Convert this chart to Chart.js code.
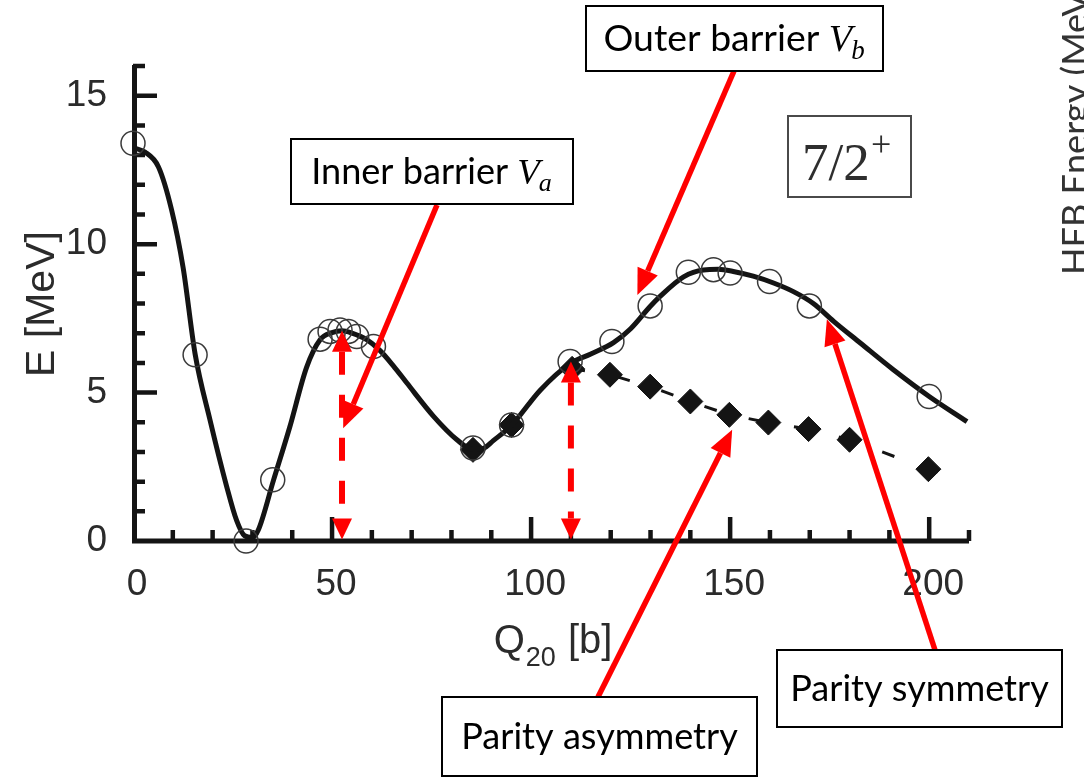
<!DOCTYPE html>
<html>
<head>
<meta charset="utf-8">
<script src="https://cdn.jsdelivr.net/npm/chart.js@4.4.1/dist/chart.umd.min.js"></script>
<style>
html,body{margin:0;padding:0;background:#fff;}
#wrap{width:1084px;height:777px;position:relative;overflow:hidden;background:#fff;}
canvas{display:block;}
</style>
</head>
<body>
<div id="wrap"><canvas id="c" width="1084" height="777"></canvas></div>
<script>
// ---------------- data ----------------
// smooth (parity-symmetric) energy curve
const curveQ = [0, 3, 6.4, 9.7, 12.6, 15.6, 19.3, 23.5, 26, 28, 30, 31.5, 35.3, 39.4, 43.6, 47, 50, 52.5, 55, 58.7, 62, 65.4, 68.8, 75.5, 81.3, 85.4, 88, 90.5, 95.1, 102.3, 109.8, 115, 120.7, 125, 129.9, 132.4, 138.3, 143.3, 147, 150.8, 155.8, 160.9, 165.9, 170.9, 176, 182.7, 191, 200, 209.5];
const curveE = [13.25, 13.1, 12.6, 11.15, 9.2, 6.3, 4.1, 1.85, 0.7, 0.18, 0.12, 0.38, 2.05, 3.85, 5.85, 6.78, 7.02, 7.08, 7.0, 6.78, 6.42, 5.9, 5.32, 4.2, 3.42, 3.08, 3.12, 3.38, 3.9, 5.08, 5.98, 6.3, 6.68, 7.15, 7.9, 8.24, 8.9, 9.13, 9.15, 9.08, 8.92, 8.69, 8.4, 8.0, 7.4, 6.67, 5.77, 4.87, 4.02];
// open circles (parity symmetry)
const circleQ = [0, 15.6, 28.4, 35.1, 47, 49.5, 52, 54.1, 56.2, 60.4, 85.4, 95.1, 109.8, 120.3, 129.9, 139.5, 145.8, 150, 159.9, 169.9, 200];
const circleE = [13.4, 6.27, 0, 2.06, 6.8, 7.06, 7.11, 7.06, 6.89, 6.55, 3.13, 3.91, 6.05, 6.72, 7.92, 9.05, 9.14, 9.03, 8.74, 7.92, 4.87];
// filled diamonds (parity asymmetry)
const diamondQ = [85.4, 95.1, 110.3, 119.8, 129.9, 140, 149.8, 159.6, 169.7, 180, 199.8];
const diamondE = [3.07, 3.91, 5.8, 5.6, 5.2, 4.7, 4.25, 3.99, 3.77, 3.41, 2.42];
// end of the dashed line
const dashEndQ = [210];
const dashEndE = [2.05];
// tick labels
const xTickLabels = [0, 50, 100, 150, 200];
const yTickLabels = [0, 5, 10, 15];
// annotation anchors in data space
const dimArrowQ = [52.5, 110];
const dimArrowTopE = [7.08, 6.05];
const calloutTipQ = [52.8, 126.7, 174.3, 150.5];
const calloutTipE = [3.8, 8.29, 7.47, 3.75];
// texts
const xTitleMain = 'Q', xTitleSub = '20', xTitleRest = ' [b]';
const yTitle = 'E [MeV]';
const calloutTexts = ['Inner barrier ', 'Outer barrier ', 'Parity symmetry', 'Parity asymmetry'];
const calloutVar = ['V', 'V'];
const calloutSub = ['a', 'b'];
const stateMain = '7/2', stateSup = '+';
const sideText = 'HFB Energy (MeV)';

// ---------------- drawing ----------------
const RED = '#ff0000';
const INK = '#141414';

function head(ctx, tx, ty, fx, fy, len, hw) {
  const a = Math.atan2(ty - fy, tx - fx);
  const bx = tx - len * Math.cos(a), by = ty - len * Math.sin(a);
  ctx.beginPath();
  ctx.moveTo(tx, ty);
  ctx.lineTo(bx + hw * Math.sin(a), by - hw * Math.cos(a));
  ctx.lineTo(bx - hw * Math.sin(a), by + hw * Math.cos(a));
  ctx.closePath();
  ctx.fill();
  return [bx, by];
}

function fitSize(ctx, text, family, target) {
  ctx.font = '40px ' + family;
  return 40 * target / ctx.measureText(text).width;
}

const deco = {
  id: 'deco',
  beforeDatasetsDraw(chart) {
    const ctx = chart.ctx, xs = chart.scales.x, ys = chart.scales.y;
    const L = xs.getPixelForValue(0), B = ys.getPixelForValue(0);
    const R = xs.getPixelForValue(210), T = ys.getPixelForValue(16);
    ctx.save();
    ctx.strokeStyle = INK;
    ctx.lineCap = 'butt';
    ctx.lineWidth = 5;
    ctx.beginPath();
    ctx.moveTo(L + 1.5, B + 2.5); ctx.lineTo(L + 1.5, T - 1);
    ctx.moveTo(L - 1, B); ctx.lineTo(R, B);
    ctx.stroke();
    ctx.lineWidth = 4.5;
    ctx.beginPath();
    xs.ticks.forEach(t => {
      if (t.value <= 0) return;
      const p = xs.getPixelForValue(t.value);
      const len = (t.value % 50 === 0) ? 24 : 11;
      ctx.moveTo(p, B); ctx.lineTo(p, B - len);
    });
    ys.ticks.forEach(t => {
      if (t.value <= 0) return;
      const p = ys.getPixelForValue(t.value);
      const len = (t.value % 5 === 0) ? 24 : 12;
      ctx.moveTo(L, p); ctx.lineTo(L + len, p);
    });
    ctx.stroke();
    ctx.restore();
  },
  afterDatasetsDraw(chart) {
    const ctx = chart.ctx, xs = chart.scales.x, ys = chart.scales.y;
    ctx.save();
    // axis titles
    ctx.fillStyle = '#2b2b2b';
    ctx.textBaseline = 'alphabetic';
    ctx.textAlign = 'left';
    ctx.save();
    ctx.translate(39, 304);
    ctx.rotate(-Math.PI / 2);
    ctx.font = '41px "Liberation Sans"';
    ctx.textAlign = 'center';
    ctx.fillText(yTitle, 0, 15);
    ctx.restore();

    ctx.font = '40px "Liberation Sans"';
    const wq = ctx.measureText(xTitleMain).width;
    const wr = ctx.measureText(xTitleRest).width;
    ctx.font = '27px "Liberation Sans"';
    const ws = ctx.measureText(xTitleSub).width;
    let x0 = 552 - (wq + ws + wr) / 2;
    ctx.font = '40px "Liberation Sans"';
    ctx.fillText(xTitleMain, x0, 653);
    ctx.font = '27px "Liberation Sans"';
    ctx.fillText(xTitleSub, x0 + wq + 1, 666);
    ctx.font = '40px "Liberation Sans"';
    ctx.fillText(xTitleRest, x0 + wq + ws + 2, 653);

    // red dashed double arrows
    ctx.fillStyle = RED; ctx.strokeStyle = RED;
    dimArrowQ.forEach((q, i) => {
      const x = xs.getPixelForValue(q);
      const yt = ys.getPixelForValue(dimArrowTopE[i]);
      const yb = ys.getPixelForValue(0) - 1.5;
      const b1 = head(ctx, x, yt, x, yb, 21, 10);
      const b2 = head(ctx, x, yb, x, yt, 21, 10);
      ctx.lineWidth = 6;
      ctx.setLineDash([23, 20]);
      ctx.beginPath();
      ctx.moveTo(x, b1[1]); ctx.lineTo(x, b2[1]);
      ctx.stroke();
      ctx.setLineDash([]);
    });

    // callout arrows
    const starts = [[437, 205], [734, 71], [935, 650], [598, 697]];
    calloutTipQ.forEach((q, i) => {
      const tx = xs.getPixelForValue(q), ty = ys.getPixelForValue(calloutTipE[i]);
      const [sx, sy] = starts[i];
      const b = head(ctx, tx, ty, sx, sy, 26, 11);
      ctx.lineWidth = 5.5;
      ctx.beginPath();
      ctx.moveTo(sx, sy); ctx.lineTo(b[0], b[1]);
      ctx.stroke();
    });

    // callout boxes
    const fam = 'Lato';
    const sInner = fitSize(ctx, 'Inner barrier', fam, 197);
    const sOuter = fitSize(ctx, 'Outer barrier', fam, 216);
    const boxes = [
      {x: 291, y: 139, w: 282, h: 65, s: sInner},
      {x: 586, y: 6, w: 297, h: 65, s: sOuter},
      {x: 777, y: 650, w: 285, h: 77, s: sInner},
      {x: 442, y: 697, w: 315, h: 79, s: sInner}
    ];
    boxes.forEach((bx, i) => {
      ctx.fillStyle = '#ffffff';
      ctx.fillRect(bx.x, bx.y, bx.w, bx.h);
      ctx.strokeStyle = '#000000';
      ctx.lineWidth = 2;
      ctx.strokeRect(bx.x, bx.y, bx.w, bx.h);
      ctx.fillStyle = '#000000';
      ctx.font = bx.s + 'px ' + fam;
      const wMain = ctx.measureText(calloutTexts[i]).width;
      let wV = 0, wS = 0;
      const vFont = 'italic ' + (bx.s * 1.02) + 'px "Liberation Serif"';
      const sFont = 'italic ' + (bx.s * 0.72) + 'px "Liberation Serif"';
      if (i < 2) {
        ctx.font = vFont; wV = ctx.measureText(calloutVar[i]).width;
        ctx.font = sFont; wS = ctx.measureText(calloutSub[i]).width;
      }
      const total = wMain + wV + wS;
      const tx = bx.x + (bx.w - total) / 2;
      const base = bx.y + bx.h / 2 + bx.s * 0.34;
      ctx.font = bx.s + 'px ' + fam;
      ctx.fillText(calloutTexts[i], tx, base);
      if (i < 2) {
        ctx.font = vFont;
        ctx.fillText(calloutVar[i], tx + wMain, base);
        ctx.font = sFont;
        ctx.fillText(calloutSub[i], tx + wMain + wV - 1, base + bx.s * 0.2);
      }
    });

    // 7/2+ label box
    ctx.strokeStyle = '#4a4a4a';
    ctx.lineWidth = 2;
    ctx.strokeRect(788, 116, 123, 81);
    ctx.fillStyle = '#2e2e2e';
    ctx.font = '53px "Liberation Serif"';
    ctx.fillText(stateMain, 802, 180);
    ctx.font = '36px "Liberation Serif"';
    ctx.fillText(stateSup, 871, 156);

    // cut-off text of neighbouring panel
    ctx.save();
    ctx.translate(1088, 275);
    ctx.rotate(-Math.PI / 2);
    ctx.fillStyle = '#333333';
    ctx.font = (sInner) + 'px ' + fam;
    ctx.fillText(sideText, 0, 0);
    ctx.restore();

    ctx.restore();
  }
};

function build() {
  const pts = (qa, ea) => qa.map((q, i) => ({x: q, y: ea[i]}));
  const dashData = pts(diamondQ, diamondE).concat(pts(dashEndQ, dashEndE));
  const dashRadius = diamondQ.map(() => 12.5).concat(dashEndQ.map(() => 0));
  new Chart(document.getElementById('c'), {
    type: 'scatter',
    data: {
      datasets: [
        {label: 'circles', data: pts(circleQ, circleE), showLine: false, pointStyle: 'circle', pointRadius: 12,
         pointBorderWidth: 1.5, pointBorderColor: '#3a3a3a', pointBackgroundColor: 'rgba(0,0,0,0)', clip: false, order: 0},
        {label: 'curve', data: pts(curveQ, curveE), showLine: true, borderColor: INK, borderWidth: 5, pointRadius: 0,
         tension: 0.4, cubicInterpolationMode: 'monotone', clip: false, order: 1},
        {label: 'diamonds', data: dashData, showLine: true, borderColor: INK, borderWidth: 3, borderDash: [13, 33],
         segment: {borderColor: c => (c.p0DataIndex < 2 ? 'rgba(0,0,0,0)' : INK)},
         pointStyle: 'rectRot', pointRadius: dashRadius, pointBackgroundColor: INK, pointBorderColor: INK,
         pointBorderWidth: 1, clip: false, order: 2}
      ]
    },
    options: {
      responsive: false,
      animation: false,
      devicePixelRatio: 1,
      events: [],
      layout: {padding: {left: 0, top: 66, right: 115, bottom: 0}},
      plugins: {legend: {display: false}, tooltip: {enabled: false}},
      scales: {
        x: {
          type: 'linear', min: 0, max: 210,
          grid: {display: false, drawTicks: false},
          border: {display: false},
          ticks: {stepSize: 10, autoSkip: false, maxRotation: 0, padding: 22, labelOffset: 4,
                  color: '#2b2b2b', font: {family: 'Liberation Sans', size: 37},
                  callback: v => xTickLabels.includes(v) ? String(v) : ''},
          afterFit: s => { s.height = 236; }
        },
        y: {
          type: 'linear', min: 0, max: 16,
          grid: {display: false, drawTicks: false},
          border: {display: false},
          ticks: {stepSize: 1, autoSkip: false, padding: 26,
                  color: '#2b2b2b', font: {family: 'Liberation Sans', size: 37},
                  callback: v => yTickLabels.includes(v) ? String(v) : ''},
          afterFit: s => { s.width = 133; }
        }
      }
    },
    plugins: [deco]
  });
}

const fontsWanted = ['37px "Liberation Sans"', '40px Lato', 'italic 40px "Liberation Serif"', '53px "Liberation Serif"'];
Promise.all(fontsWanted.map(f => document.fonts.load(f))).then(build, build);
</script>
</body>
</html>
